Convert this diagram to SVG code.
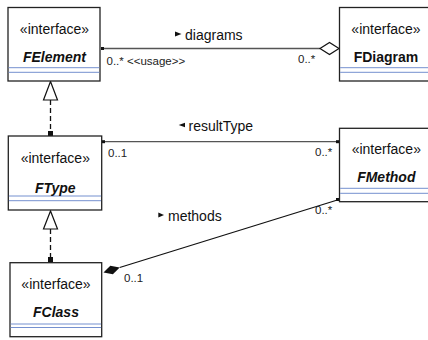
<svg xmlns="http://www.w3.org/2000/svg" width="428" height="340" viewBox="0 0 428 340">
  <style>
    .box { fill: #ffffff; stroke: #222222; stroke-width: 1.3; }
    .sep { stroke: #7590cf; stroke-width: 1; }
    .stereo { font-family: "Liberation Sans", Arial, sans-serif; font-size: 14px; fill: #111111; text-anchor: middle; }
    .name { font-family: "Liberation Sans", Arial, sans-serif; font-size: 14px; font-weight: bold; fill: #111111; text-anchor: middle; }
    .abstract { font-style: italic; }
    .label { font-family: "Liberation Sans", Arial, sans-serif; font-size: 14px; fill: #111111; }
    .mult { font-family: "Liberation Sans", Arial, sans-serif; font-size: 11.5px; fill: #222222; }
    .assoc { fill: none; stroke: #555555; stroke-width: 1.3; }
    .assoc-dark { fill: none; stroke: #111111; stroke-width: 1.3; }
    .realize { fill: none; stroke: #111111; stroke-width: 1.3; stroke-dasharray: 5 3; }
    .hollow { fill: #ffffff; stroke: #111111; stroke-width: 1.2; }
    .end { fill: #111111; }
    .dir { fill: #111111; }
  </style>

  <!-- connectors -->
  <g id="connectors">
    <!-- FElement diagrams -> FDiagram (aggregation) -->
    <path class="assoc" d="M101,48.5 H320"/>
    <rect class="end" x="101" y="47" width="3" height="3"/>
    <polygon class="hollow" points="320,48.5 329.5,42.5 339,48.5 329.5,54.5"/>
    <polygon class="dir" points="175,31.5 181.5,34 175,36.5"/>
    <text class="label" x="185" y="40">diagrams</text>
    <text class="mult" x="106.5" y="65">0..* &lt;&lt;usage&gt;&gt;</text>
    <text class="mult" x="298" y="63">0..*</text>

    <!-- FType resultType <-> FMethod -->
    <path class="assoc" d="M102,141.7 H339"/>
    <rect class="end" x="102" y="140.2" width="3" height="3"/>
    <rect class="end" x="336" y="140.2" width="3" height="3"/>
    <polygon class="dir" points="185,122.7 178.7,125 185,127.3"/>
    <text class="label" x="188.5" y="131">resultType</text>
    <text class="mult" x="108" y="157">0..1</text>
    <text class="mult" x="315" y="156">0..*</text>

    <!-- FClass methods -> FMethod (composition) -->
    <path class="assoc-dark" d="M119.7,267.5 L339,199.5"/>
    <rect class="end" x="336" y="198" width="3" height="3"/>
    <polygon class="end" points="103.5,272.5 110.3,265.7 119.7,267.5 112.9,274.3"/>
    <polygon class="dir" points="158.3,212.5 164,215 158.3,217.5"/>
    <text class="label" x="168" y="221">methods</text>
    <text class="mult" x="315" y="213.5">0..*</text>
    <text class="mult" x="124" y="282">0..1</text>

    <!-- FType realizes FElement -->
    <path class="realize" d="M50.5,100 V131"/>
    <rect class="end" x="48" y="131" width="5" height="5"/>
    <polygon class="hollow" points="50.5,81.5 43.5,100 57.5,100"/>

    <!-- FClass realizes FType -->
    <path class="realize" d="M50.5,229 V257"/>
    <rect class="end" x="48" y="257" width="5" height="5.5"/>
    <polygon class="hollow" points="50.5,211 43.5,229 57.5,229"/>
  </g>

  <!-- nodes -->
  <g id="FElement">
    <rect class="box" x="8" y="7.5" width="92" height="73.5"/>
    <line class="sep" x1="8.6" y1="67.7" x2="99.4" y2="67.7"/>
    <line class="sep" x1="8.6" y1="72.3" x2="99.4" y2="72.3"/>
    <text class="stereo" x="54.5" y="34">«interface»</text>
    <text class="name abstract" x="54.5" y="62">FElement</text>
  </g>

  <g id="FDiagram">
    <rect class="box" x="339.5" y="7.5" width="93" height="73.5"/>
    <line class="sep" x1="340.1" y1="67.7" x2="428" y2="67.7"/>
    <line class="sep" x1="340.1" y1="72.3" x2="428" y2="72.3"/>
    <text class="stereo" x="386" y="34">«interface»</text>
    <text class="name" x="386" y="62">FDiagram</text>
  </g>

  <g id="FType">
    <rect class="box" x="8.3" y="136" width="93.4" height="74"/>
    <line class="sep" x1="8.9" y1="196" x2="101.1" y2="196"/>
    <line class="sep" x1="8.9" y1="200.7" x2="101.1" y2="200.7"/>
    <text class="stereo" x="55.3" y="163">«interface»</text>
    <text class="name abstract" x="55.3" y="192.5">FType</text>
  </g>

  <g id="FMethod">
    <rect class="box" x="339.5" y="128.3" width="93" height="73.4"/>
    <line class="sep" x1="340.1" y1="188.3" x2="428" y2="188.3"/>
    <line class="sep" x1="340.1" y1="193.3" x2="428" y2="193.3"/>
    <text class="stereo" x="386.3" y="154">«interface»</text>
    <text class="name abstract" x="386.3" y="182">FMethod</text>
  </g>

  <g id="FClass">
    <rect class="box" x="10" y="262.7" width="91.7" height="74"/>
    <line class="sep" x1="10.6" y1="324" x2="101.1" y2="324"/>
    <line class="sep" x1="10.6" y1="327.5" x2="101.1" y2="327.5"/>
    <text class="stereo" x="56" y="288.5">«interface»</text>
    <text class="name abstract" x="56" y="316.7">FClass</text>
  </g>
</svg>
